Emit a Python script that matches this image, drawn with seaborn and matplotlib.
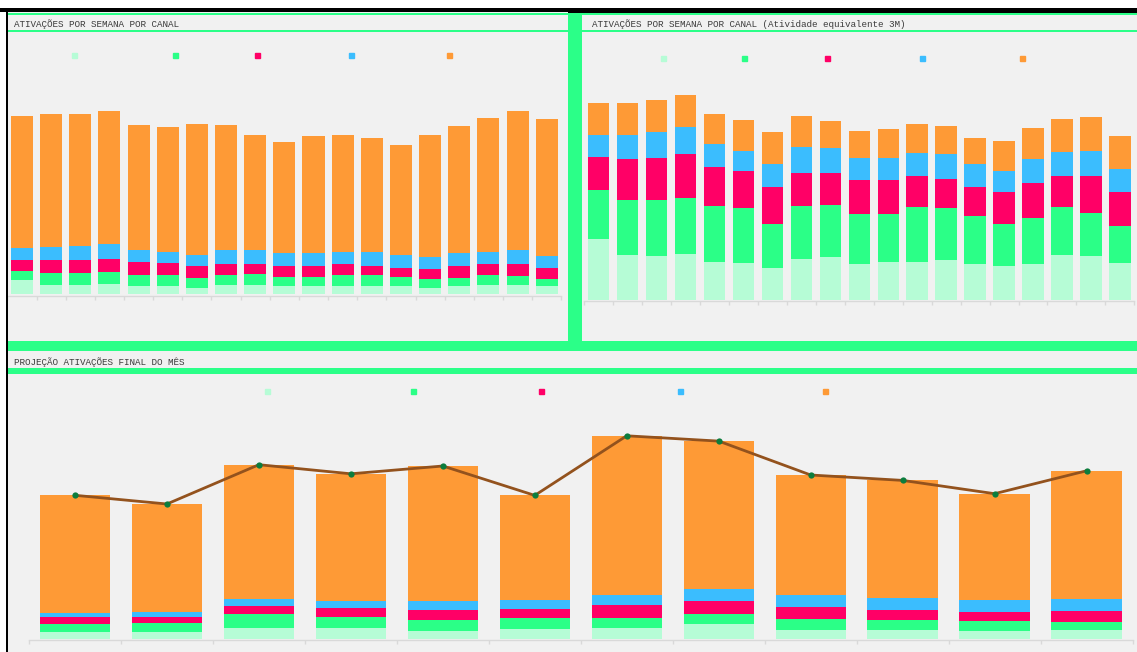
import numpy as np
import matplotlib
matplotlib.use("Agg")
import matplotlib.pyplot as plt
from matplotlib.patches import Rectangle
import seaborn as sns

# ---------------- data ----------------
weeks = [f"S{i:02d}" for i in range(1, 20)]
months = ["Jan", "Fev", "Mar", "Abr", "Mai", "Jun", "Jul", "Ago", "Set", "Out", "Nov", "Dez"]
channels = ["Canal A", "Canal B", "Canal C", "Canal D", "Canal E"]

# weekly activations by channel (bottom -> top of stack)
wk_a = [137, 90, 90, 97, 77, 77, 63, 87, 90, 77, 77, 77, 83, 77, 63, 77, 87, 87, 77]
wk_b = [96, 117, 117, 123, 113, 110, 94, 103, 110, 96, 96, 113, 107, 93, 90, 86, 103, 93, 76]
wk_c = [107, 133, 133, 133, 133, 120, 120, 113, 103, 107, 107, 107, 93, 93, 100, 117, 107, 117, 107]
wk_d = [123, 133, 143, 150, 117, 113, 116, 137, 134, 130, 133, 123, 137, 130, 120, 133, 126, 140, 123]
wk_e = [1317, 1330, 1320, 1330, 1250, 1250, 1307, 1253, 1150, 1113, 1164, 1167, 1140, 1097, 1220, 1264, 1337, 1396, 1367]

# weekly activations, 3M-equivalent activity
eq_a = [610, 453, 443, 460, 377, 367, 317, 407, 430, 360, 380, 377, 403, 357, 337, 357, 453, 440, 370]
eq_b = [490, 547, 557, 560, 563, 553, 443, 533, 520, 500, 480, 553, 517, 483, 423, 463, 477, 430, 370]
eq_c = [330, 410, 420, 440, 390, 370, 370, 330, 320, 340, 340, 310, 290, 290, 320, 350, 310, 370, 340]
eq_d = [217, 240, 257, 267, 227, 203, 227, 260, 247, 217, 223, 230, 250, 227, 213, 237, 240, 250, 227]
eq_e = [327, 323, 320, 323, 300, 307, 320, 310, 277, 273, 284, 287, 280, 260, 294, 310, 327, 340, 330]

# month-end projection by channel
mo_a = [67, 67, 110, 103, 80, 100, 110, 143, 87, 83, 80, 83]
mo_b = [80, 93, 140, 113, 110, 103, 93, 100, 107, 100, 97, 83]
mo_c = [70, 60, 80, 90, 100, 90, 130, 133, 120, 100, 90, 110]
mo_d = [43, 47, 70, 70, 87, 93, 100, 123, 123, 120, 120, 123]
mo_e = [1174, 1080, 1340, 1273, 1350, 1047, 1596, 1477, 1200, 1180, 1063, 1280]

# ---------------- style ----------------
W, H = 1137, 652
BG = "#f1f1f1"
FRAME = "#2bff88"
PALETTE = ["#b6fcd6", "#2bff87", "#ff0066", "#3bbdfe", "#fe9a36"]
LINE = "#93521d"
DOT = "#0b7d3e"

sns.set_theme(style="white")
plt.rcParams["font.family"] = ["Liberation Mono", "DejaVu Sans Mono"]

fig = plt.figure(figsize=(W / 100, H / 100), dpi=100, facecolor="white")


def rect(x0, y0, x1, y1, color, z=0):
    fig.patches.append(Rectangle((x0 / W, 1 - y1 / H), (x1 - x0) / W, (y1 - y0) / H,
                                 transform=fig.transFigure, facecolor=color,
                                 edgecolor="none", zorder=z))


def px_axes(x0, y0, x1, y1):
    ax = fig.add_axes([x0 / W, 1 - y1 / H, (x1 - x0) / W, (y1 - y0) / H])
    ax.set_facecolor("none")
    ax.set_zorder(1)
    return ax


# panel backgrounds and frame
rect(8, 11, 1137, 652, BG, -5)
rect(8, 12.7, 568, 14.7, FRAME, 2)
rect(582, 13, 1137, 15, FRAME, 2)
rect(8, 29.7, 1137, 32, FRAME, 2)
rect(568, 11, 582, 351, FRAME, 2)
rect(8, 340.7, 1137, 351, FRAME, 2)
rect(8, 367.7, 1137, 374.3, FRAME, 2)
rect(0, 8, 1137, 11.5, "black", 3)
rect(568, 8, 1137, 13, "black", 3)
rect(5.5, 8, 8, 652, "black", 3)

title_kw = dict(fontsize=6.7, color="#3c3c3c", va="center", ha="left")
fig.text(14 / W, 1 - 24.3 / H, "ATIVAÇÕES POR SEMANA POR CANAL", **title_kw)
fig.text(592 / W, 1 - 24.3 / H, "ATIVAÇÕES POR SEMANA POR CANAL (Atividade equivalente 3M)", **title_kw)
fig.text(14 / W, 1 - 362.5 / H, "PROJEÇÃO ATIVAÇÕES FINAL DO MÊS", **title_kw)


def stacked(ax, cats, layers, width):
    cum = np.cumsum(np.array(layers, dtype=float), axis=0)
    # draw the tallest cumulative layer first so lower layers sit on top
    for k in range(len(layers) - 1, -1, -1):
        sns.barplot(x=cats, y=cum[k], color=PALETTE[k], width=width, saturation=1,
                    linewidth=0, errorbar=None, ax=ax)
    return cum[-1]


def finish(ax, n):
    for s in ("top", "right", "left"):
        ax.spines[s].set_visible(False)
    ax.spines["bottom"].set_color("#d9d9d9")
    ax.spines["bottom"].set_linewidth(1)
    ax.set_xlim(-0.5, n - 0.5)
    ax.set_xticks(np.arange(-0.5, n, 1.0))
    ax.set_xticklabels([])
    ax.tick_params(axis="x", length=3, color="#d9d9d9", width=1, bottom=True)
    ax.set_yticks([])
    ax.set_xlabel("")
    ax.set_ylabel("")


def legend_marks(ax, xs_px, y_px, box):
    x0, y0, x1, y1 = box
    for c, xp in zip(PALETTE, xs_px):
        ax.plot((xp - x0) / (x1 - x0), 1 - (y_px - y0) / (y1 - y0), marker="s",
                markersize=3.6, color=c, transform=ax.transAxes, clip_on=False, zorder=6)


# --- top-left: weekly activations ---
box = (7.4, 40, 561.3, 296)
ax1 = px_axes(*box)
stacked(ax1, weeks, [wk_a, wk_b, wk_c, wk_d, wk_e], 0.755)
ax1.set_ylim(-20, 2540)
finish(ax1, len(weeks))
legend_marks(ax1, [74, 175, 257, 351, 449], 55, box)

# --- top-right: weekly activations, 3M equivalent ---
box = (584, 40, 1134.4, 301)
ax2 = px_axes(*box)
stacked(ax2, weeks, [eq_a, eq_b, eq_c, eq_d, eq_e], 0.735)
ax2.set_ylim(-10, 2600)
finish(ax2, len(weeks))
legend_marks(ax2, [663, 744, 827, 922, 1022], 58.3, box)

# --- bottom: month-end projection ---
box = (29, 380, 1132.5, 640)
ax3 = px_axes(*box)
totals = stacked(ax3, months, [mo_a, mo_b, mo_c, mo_d, mo_e], 0.764)
sns.lineplot(x=np.arange(len(months)), y=totals, ax=ax3, color=LINE, lw=2, zorder=5,
             marker="o", markersize=4.5, markerfacecolor=DOT, markeredgewidth=0)
ax3.set_ylim(-13, 2587)
finish(ax3, len(months))
legend_marks(ax3, [267, 413, 541, 680, 825], 390.7, box)

fig.savefig("out.png", dpi=100, facecolor="white")
